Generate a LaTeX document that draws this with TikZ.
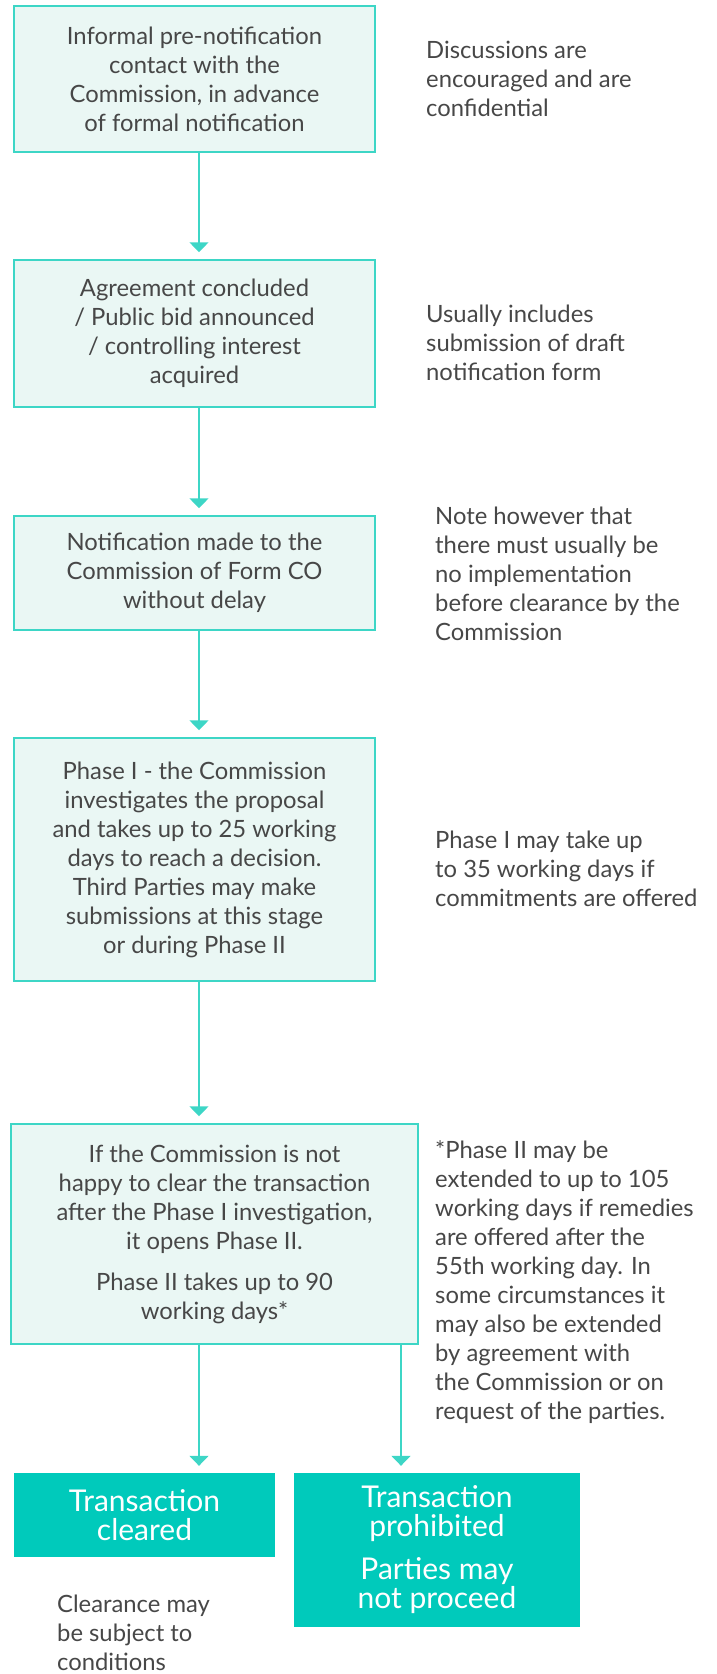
\documentclass[tikz,border=0pt]{standalone}
\usepackage{fontspec}
\setmainfont{Lato}
\usetikzlibrary{arrows.meta}

\definecolor{tealline}{HTML}{3DD6C6}
\definecolor{tealfill}{HTML}{EAF7F4}
\definecolor{tealsolid}{HTML}{00CABB}
\definecolor{textgray}{HTML}{474747}

\begin{document}
\begin{tikzpicture}[x=1pt, y=-1pt,
    stage/.style={draw=tealline, line width=1.5pt, fill=tealfill, text=textgray,
        align=center, font=\fontsize{23.8}{29}\selectfont},
    outcome/.style={fill=tealsolid, text=white, align=center,
        font=\fontsize{30}{29}\selectfont},
    note/.style={text=textgray, align=left, anchor=north west, inner sep=0pt,
        font=\fontsize{23.8}{29}\selectfont},
    flow/.style={draw=tealline, line width=1.5pt,
        -{Triangle[width=19pt, length=10pt]}, shorten >=7pt}
]
    \useasboundingbox (0,0) rectangle (716,1674);
    % Etapas
    \node[stage, minimum width=361pt, minimum height=146pt] (informal) at (194.5,79)
        {Informal pre-notification\\contact with the\\Commission, in advance\\of formal notification};
    \node[stage, minimum width=361pt, minimum height=147pt] (agreement) at (194.5,333.5)
        {Agreement concluded\\/ Public bid announced\\/ controlling interest\\acquired};
    \node[stage, minimum width=361pt, minimum height=114pt] (notification) at (194.5,573)
        {Notification made to the\\Commission of Form CO\\without delay};
    \node[stage, minimum width=361pt, minimum height=243pt] (phaseone) at (194.5,859.5)
        {Phase I - the Commission\\investigates the proposal\\and takes up to 25 working\\days to reach a decision.\\Third Parties may make\\submissions at this stage\\or during Phase II};
    \node[stage, minimum width=407pt, minimum height=220pt] (phasetwo) at (214.5,1234)
        {If the Commission is not\\happy to clear the transaction\\after the Phase I investigation,\\it opens Phase II.\\[12pt]Phase II takes up to 90\\working days*};
    % Resultados
    \node[outcome, minimum width=261pt, minimum height=84pt] (cleared) at (144.5,1515)
        {Transaction\\cleared};
    \node[outcome, minimum width=286pt, minimum height=154pt] (prohibited) at (437,1550)
        {Transaction\\prohibited\\[14pt]Parties may\\not proceed};
    % Notas
    \node[note] (note1) at (426,41) {Discussions are\\encouraged and are\\confidential};
    \node[note] (note2) at (426,305) {Usually includes\\submission of draft\\notification form};
    \node[note] (note3) at (435,507) {Note however that\\there must usually be\\no implementation\\before clearance by the\\Commission};
    \node[note] (note4) at (435,831) {Phase I may take up\\to 35 working days if\\commitments are offered};
    \node[note] (note5) at (435,1140) {*Phase II may be\\extended to up to 105\\working days if remedies\\are offered after the\\55th working day. In\\some circumstances it\\may also be extended\\by agreement with\\the Commission or on\\request of the parties.};
    \node[note] (note6) at (57,1595) {Clearance may\\be subject to\\conditions};
    % Setas
    \coordinate (spine) at (199,0);
    \coordinate (branch) at (401,0);
    \draw[flow] (informal.south -| spine) -- (agreement.north -| spine);
    \draw[flow] (agreement.south -| spine) -- (notification.north -| spine);
    \draw[flow] (notification.south -| spine) -- (phaseone.north -| spine);
    \draw[flow] (phaseone.south -| spine) -- (phasetwo.north -| spine);
    \draw[flow] (phasetwo.south -| spine) -- (cleared.north -| spine);
    \draw[flow] (phasetwo.south -| branch) -- (prohibited.north -| branch);
\end{tikzpicture}
\end{document}
